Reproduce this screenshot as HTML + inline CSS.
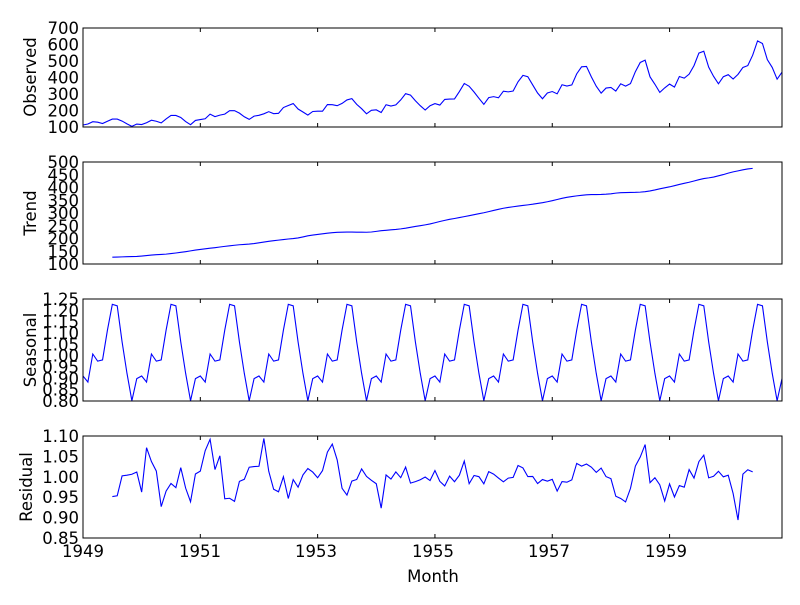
<!DOCTYPE html>
<html><head><meta charset="utf-8"><style>
body{margin:0;background:#fff}
svg text{font-family:"DejaVu Sans","Liberation Sans",sans-serif;font-size:16.5px;fill:#000}
</style></head><body>
<svg id="s" width="800" height="600" xmlns="http://www.w3.org/2000/svg">
<rect width="800" height="600" fill="#fff"/>
<g id="g"></g>
<text x="36" y="77" text-anchor="middle" transform="rotate(-90 36 77)" font-size="17">Observed</text>
<text x="36" y="213" text-anchor="middle" transform="rotate(-90 36 213)" font-size="17">Trend</text>
<text x="36" y="350" text-anchor="middle" transform="rotate(-90 36 350)" font-size="17">Seasonal</text>
<text x="32" y="487" text-anchor="middle" transform="rotate(-90 32 487)" font-size="17">Residual</text>
<text x="433" y="582" text-anchor="middle" font-size="17">Month</text>
<g text-anchor="end">
<text x="79" y="133">100</text><text x="79" y="116.5">200</text><text x="79" y="100">300</text><text x="79" y="83.5">400</text><text x="79" y="67">500</text><text x="79" y="50.5">600</text><text x="79" y="34">700</text>
<text x="79" y="270">100</text><text x="79" y="257.25">150</text><text x="79" y="244.5">200</text><text x="79" y="231.75">250</text><text x="79" y="219">300</text><text x="79" y="206.25">350</text><text x="79" y="193.5">400</text><text x="79" y="180.75">450</text><text x="79" y="168">500</text>
<text x="79" y="407">0.80</text><text x="79" y="395.7">0.85</text><text x="79" y="384.3">0.90</text><text x="79" y="373">0.95</text><text x="79" y="361.7">1.00</text><text x="79" y="350.3">1.05</text><text x="79" y="339">1.10</text><text x="79" y="327.7">1.15</text><text x="79" y="316.3">1.20</text><text x="79" y="305">1.25</text>
<text x="79" y="544">0.85</text><text x="79" y="523.6">0.90</text><text x="79" y="503.2">0.95</text><text x="79" y="482.8">1.00</text><text x="79" y="462.4">1.05</text><text x="79" y="442">1.10</text>
</g>
<g text-anchor="middle">
<text x="83" y="557">1949</text><text x="200" y="557">1951</text><text x="316" y="557">1953</text><text x="433" y="557">1955</text><text x="549" y="557">1957</text><text x="666" y="557">1959</text>
</g>
</svg>
<script>
var d=[112,118,132,129,121,135,148,148,136,119,104,118,115,126,141,135,125,149,170,170,158,133,114,140,145,150,178,163,172,178,199,199,184,162,146,166,171,180,193,181,183,218,230,242,209,191,172,194,196,196,236,235,229,243,264,272,237,211,180,201,204,188,235,227,234,264,302,293,259,229,203,229,242,233,267,269,270,315,364,347,312,274,237,278,284,277,317,313,318,374,413,405,355,306,271,306,315,301,356,348,355,422,465,467,404,347,305,336,340,318,362,348,363,435,491,505,404,359,310,337,360,342,406,396,420,472,548,559,463,407,362,405,417,391,419,461,472,535,622,606,508,461,390,432];
var n=d.length,tr=[],i,j;
for(i=0;i<n;i++){if(i<6||i>=n-6){tr.push(null);continue;}var s=0.5*d[i-6]+0.5*d[i+6];for(j=-5;j<=5;j++)s+=d[i+j];tr.push(s/12);}
var sm=[];for(j=0;j<12;j++){var a=0,c=0;for(i=j;i<n;i+=12)if(tr[i]){a+=d[i]/tr[i];c++;}sm.push(a/c);}
var mm=sm.reduce(function(a,b){return a+b})/12;sm=sm.map(function(v){return v/mm});
var se=d.map(function(v,i){return sm[i%12]}),re=d.map(function(v,i){return tr[i]?v/(tr[i]*se[i]):null});
var X0=83,X1=782;function X(i){return X0+(X1-X0)*i/143;}
var P=[[d,28,127,100,700],[tr,162,264,100,500],[se,299,401,0.8,1.25],[re,436,538,0.85,1.1]];
var h='';
P.forEach(function(p){var a=p[0],t=p[1],b=p[2],lo=p[3],hi=p[4],pts=[];
for(var i=0;i<n;i++)if(a[i]!=null)pts.push(X(i).toFixed(2)+','+(b-(a[i]-lo)/(hi-lo)*(b-t)).toFixed(2));
h+='<polyline points="'+pts.join(' ')+'" fill="none" stroke="#0000ff" stroke-width="1.1"/>';
h+='<rect x="'+X0+'" y="'+t+'" width="'+(X1-X0)+'" height="'+(b-t)+'" fill="none" stroke="#000" stroke-width="1"/>';
for(var k=0;k<6;k++){var x=X0+k*24*(X1-X0)/143;h+='<line x1="'+x+'" x2="'+x+'" y1="'+b+'" y2="'+(b-4)+'" stroke="#000"/><line x1="'+x+'" x2="'+x+'" y1="'+t+'" y2="'+(t+4)+'" stroke="#000"/>';}
});
document.getElementById('g').innerHTML=h;
</script>
</body></html>
